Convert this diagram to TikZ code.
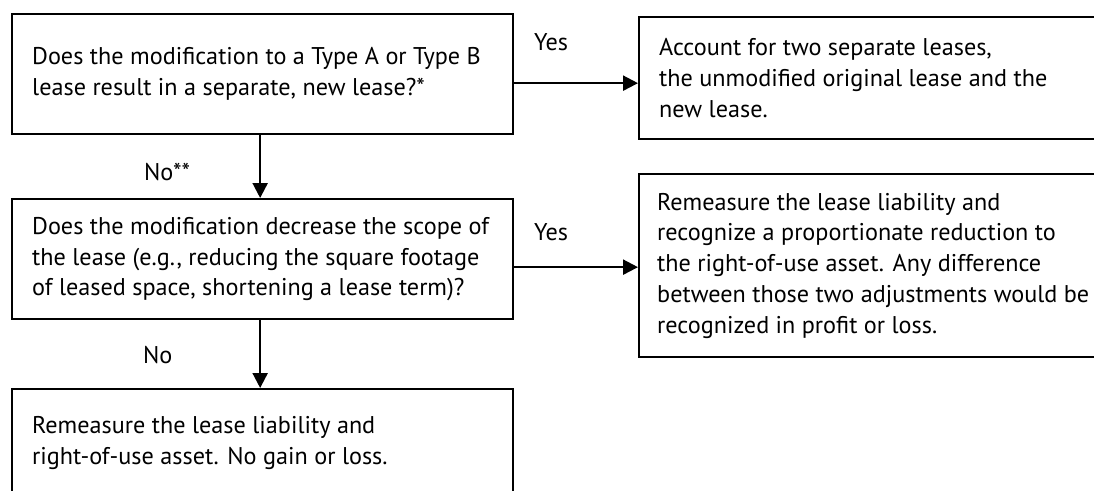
\documentclass[tikz,border=0pt]{standalone}
\usepackage{fontspec}
\setmainfont{PT Sans}
\usetikzlibrary{arrows.meta,calc}
\begin{document}
\begin{tikzpicture}[x=1pt,y=-1pt,
  box/.style={draw=black, line width=2.3pt, rectangle, inner sep=0pt, anchor=north west},
  txt/.style={font=\fontsize{24.2}{30.8}\selectfont, align=left, inner sep=0pt, anchor=west},
  lbl/.style={font=\fontsize{24.2}{30.8}\selectfont, anchor=base west, inner sep=0pt},
  arr/.style={line width=2.3pt, -{Triangle[length=15pt,width=15pt]}}]
\useasboundingbox (0,0) rectangle (1094,490);
\clip (0,0) rectangle (1094,490);
% left column
\node[box, minimum width=501pt, minimum height=120pt] (q1) at (11,13) {};
\node[txt] (q1t) at ([xshift=21pt]q1.west) {Does the modification to a Type A or Type B\\lease result in a separate, new lease?*};
\node[box, minimum width=501pt, minimum height=120pt] (q2) at (11,198) {};
\node[txt] (q2t) at ([xshift=21pt]q2.west) {Does the modification decrease the scope of\\the lease (e.g., reducing the square footage\\of leased space, shortening a lease term)?};
\node[box, minimum width=501pt, minimum height=108pt] (r3) at (11,388) {};
\node[txt] (r3t) at ([xshift=21pt]r3.west) {Remeasure the lease liability and\\right-of-use asset. No gain or loss.};
% right column
\node[box, minimum width=470pt, minimum height=122pt] (ra) at (638,16) {};
\node[txt] (rat) at ([xshift=21pt]ra.west) {Account for two separate leases,\\the unmodified original lease and the\\new lease.};
\node[box, minimum width=470pt, minimum height=183pt] (rb) at (638,173) {};
\node[txt] (rbt) at ([xshift=19pt]rb.west) {Remeasure the lease liability and\\recognize a proportionate reduction to\\the right-of-use asset. Any difference\\between those two adjustments would be\\recognized in profit or loss.};
% connectors
\coordinate (s1) at ([yshift=-9pt]q1.east);
\draw[arr] (s1) -- (s1 -| ra.west);
\coordinate (s2) at ([yshift=-8pt]q2.east);
\draw[arr] (s2) -- (s2 -| rb.west);
\coordinate (d1) at ([xshift=-2.5pt]q1.south);
\draw[arr] (d1) -- (d1 |- q2.north);
\coordinate (d2) at ([xshift=-2.5pt]q2.south);
\draw[arr] (d2) -- (d2 |- r3.north);
% labels
\node[lbl] (yes1) at (534,50) {Yes};
\node[lbl] (yes2) at (534,240) {Yes};
\node[lbl] (no1) at (144,180) {No**};
\node[lbl] (no2) at (143,363) {No};
\end{tikzpicture}
\end{document}
